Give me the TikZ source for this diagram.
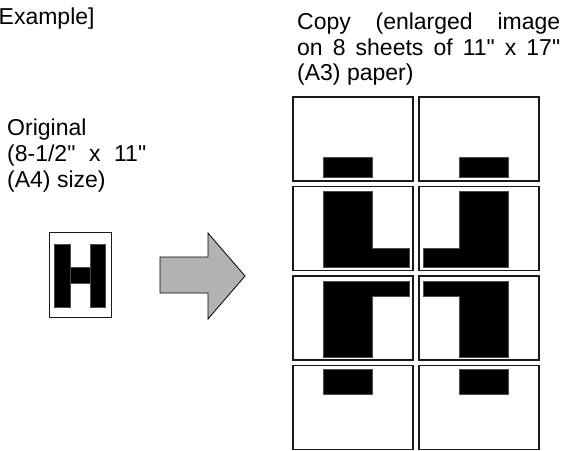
\documentclass[tikz,border=0pt]{standalone}
\usepackage{fontspec}
\setmainfont{Liberation Sans}[Ligatures=TeXOff]
\usepackage{tikz}
\usetikzlibrary{calc, positioning}

\begin{document}
\begin{tikzpicture}[x=1pt, y=-1pt,
        every node/.style={inner sep=0pt, anchor=base west, font=\fontsize{23}{26}\selectfont},
        sheet/.style={draw=black!90, line width=1.3pt, fill=white},
        ink/.style={fill=black, draw=black!70, line width=0.4pt},
        bigarrow/.style={fill=black!30, draw=black, line width=0.8pt, line join=miter}]
            \useasboundingbox (0,0) rectangle (561,450);
            % labels
            \node (title) at (-1.5,24) {Example]};
            \node (orig1) at (7,135) {Original};
            \node (orig2) at (7,161) {\makebox[139pt][s]{(8-1/2" x 11"}};
            \node (orig3) at (7,187) {(A4) size)};
            \node (copy1) at (297,29) {\makebox[263pt][s]{Copy (enlarged image}};
            \node (copy2) at (297,55) {\makebox[263pt][s]{on 8 sheets of 11" x 17"}};
            \node (copy3) at (297,80) {(A3) paper)};
            % original sheet
            \draw[sheet, line width=1pt] (49,232) rectangle (111,317);
            \begin{scope}[every path/.style=ink]
                \path (54,244) rectangle (70,307);
                \path (90,244) rectangle (105,307);
                \path (70,267) rectangle (90,283);
            \end{scope}
            % arrow
            \draw[bigarrow] (160,257) -- (208,257) -- (208,233) -- (245,276)
                -- (208,319) -- (208,293) -- (160,293) -- cycle;
            % eight copy sheets
            \foreach \col in {293,419}
                \foreach \row in {97,186.5,276,365.5}
                    \draw[sheet] (\col,\row) rectangle ++(120,84);
            \begin{scope}[every path/.style=ink]
                \path (323,157) rectangle (372,177);
                \path (459,157) rectangle (508,177);
                \path (323,191) -- (372,191) -- (372,248) -- (409,248) -- (409,267) -- (323,267) -- cycle;
                \path (459,191) -- (508,191) -- (508,267) -- (423,267) -- (423,248) -- (459,248) -- cycle;
                \path (323,281) -- (409,281) -- (409,296) -- (372,296) -- (372,357) -- (323,357) -- cycle;
                \path (423,281) -- (508,281) -- (508,357) -- (459,357) -- (459,296) -- (423,296) -- cycle;
                \path (323,369) rectangle (372,394);
                \path (459,369) rectangle (508,394);
            \end{scope}
        \end{tikzpicture}
\end{document}
